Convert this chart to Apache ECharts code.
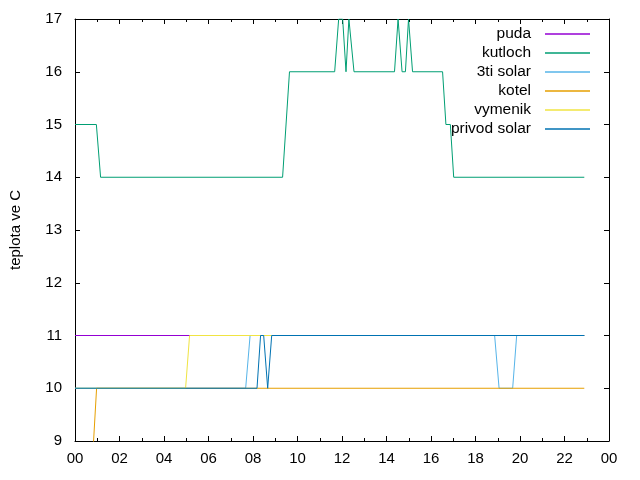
<!DOCTYPE html>
<html>
<head>
<meta charset="utf-8">
<script src="https://cdn.jsdelivr.net/npm/echarts@6/dist/echarts.min.js"></script>
<style>
  html, body { margin: 0; padding: 0; background: #fff; }
  #chart { width: 640px; height: 480px; }
</style>
</head>
<body>
<div id="chart"></div>
<script>
// hodiny dne -> teplota ve C (body kde se hodnota meni)
var seriesNames = ['puda', 'kutloch', '3ti solar', 'kotel', 'vymenik', 'privod solar'];
var seriesColors = ['#9400d3', '#009e73', '#56b4e9', '#e69f00', '#f0e442', '#0072b2'];

var puda = [[0, 11], [22.89, 11]];
var kutloch = [
  [0, 15], [0.96, 15], [1.15, 14], [9.33, 14], [9.64, 16], [11.67, 16],
  [11.85, 17], [12.03, 17], [12.18, 16], [12.31, 17], [12.36, 17], [12.54, 16],
  [14.36, 16], [14.52, 17], [14.56, 17], [14.70, 16], [14.85, 16], [14.99, 17],
  [15.04, 17], [15.17, 16], [16.52, 16], [16.67, 15], [16.87, 15], [17.02, 14],
  [22.89, 14]
];
var tretiSolar = [
  [0, 10], [7.67, 10], [7.87, 11], [18.86, 11], [19.06, 10], [19.67, 10],
  [19.85, 11], [22.89, 11]
];
var kotel = [[0, 8], [0.7, 8], [0.97, 10], [22.89, 10]];
var vymenik = [[0, 10], [4.97, 10], [5.15, 11], [22.89, 11]];
var privodSolar = [
  [0, 10], [8.18, 10], [8.34, 11], [8.48, 11], [8.66, 10], [8.84, 11], [22.89, 11]
];
var allData = [puda, kutloch, tretiSolar, kotel, vymenik, privodSolar];

var xTicks = [0, 2, 4, 6, 8, 10, 12, 14, 16, 18, 20, 22, 24];
var yTicks = [9, 10, 11, 12, 13, 14, 15, 16, 17];

var font = 'Liberation Sans, Arial, sans-serif';

function hourLabel(v) {
  var h = Math.round(v) % 24;
  return (h < 10 ? '0' : '') + h;
}

var myChart = echarts.init(document.getElementById('chart'));

var series = seriesNames.map(function (name, i) {
  return {
    name: name,
    type: 'line',
    data: allData[i],
    symbol: 'none',
    clip: true,
    lineStyle: { color: seriesColors[i], width: 1 },
    itemStyle: { color: seriesColors[i] },
    xAxisIndex: 0,
    yAxisIndex: 0
  };
});

var option = {
  animation: false,
  backgroundColor: '#fff',
  grid: { left: 75, right: 31, top: 19, bottom: 39 },
  legend: {
    orient: 'vertical',
    right: 45,
    top: 21,
    align: 'right',
    icon: 'path://M0,0L90,0L90,3L0,3Z',
    itemWidth: 45,
    itemHeight: 15,
    itemGap: 3,
    data: seriesNames,
    textStyle: { fontFamily: font, fontSize: 15.5, color: '#000', padding: [0, 9, 0, 0] }
  },
  xAxis: [
    {
      type: 'value',
      min: xTicks[0],
      max: xTicks[xTicks.length - 1],
      interval: 2,
      axisLine: { show: true, lineStyle: { color: '#000', width: 1 } },
      axisTick: { show: true, inside: true, length: 5, lineStyle: { color: '#000' } },
      minorTick: { show: true, splitNumber: 2, length: 3, lineStyle: { color: '#000' } },
      splitLine: { show: false },
      axisLabel: {
        margin: 10,
        fontFamily: font,
        fontSize: 15,
        color: '#000',
        formatter: hourLabel
      }
    },
    {
      type: 'value',
      position: 'top',
      min: xTicks[0],
      max: xTicks[xTicks.length - 1],
      interval: 2,
      axisLine: { show: true, onZero: false, lineStyle: { color: '#000', width: 1 } },
      axisTick: { show: true, inside: true, length: 5, lineStyle: { color: '#000' } },
      minorTick: { show: true, splitNumber: 2, length: 3, lineStyle: { color: '#000' } },
      splitLine: { show: false },
      axisLabel: { show: false }
    }
  ],
  yAxis: [
    {
      type: 'value',
      min: yTicks[0],
      max: yTicks[yTicks.length - 1],
      interval: 1,
      name: 'teplota ve C',
      nameLocation: 'middle',
      nameGap: 52,
      nameTextStyle: { fontFamily: font, fontSize: 15, color: '#000' },
      axisLine: { show: true, lineStyle: { color: '#000', width: 1 } },
      axisTick: { show: true, inside: true, length: 5, lineStyle: { color: '#000' } },
      splitLine: { show: false },
      axisLabel: { margin: 13, fontFamily: font, fontSize: 15, color: '#000' }
    },
    {
      type: 'value',
      position: 'right',
      min: yTicks[0],
      max: yTicks[yTicks.length - 1],
      interval: 1,
      axisLine: { show: true, onZero: false, lineStyle: { color: '#000', width: 1 } },
      axisTick: { show: true, inside: true, length: 5, lineStyle: { color: '#000' } },
      splitLine: { show: false },
      axisLabel: { show: false }
    }
  ],
  series: series
};

myChart.setOption(option);
</script>
</body>
</html>
